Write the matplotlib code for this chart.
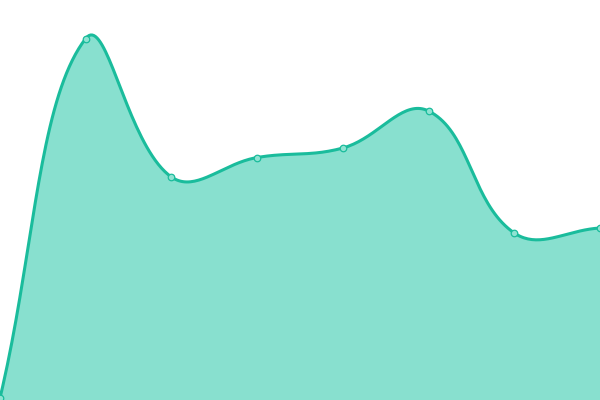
import numpy as np
import matplotlib
matplotlib.use("Agg")
import matplotlib.pyplot as plt

# data
labels = ["A", "B", "C", "D", "E", "F", "G", "H"]
values = [2, 361.5, 223, 242.5, 252, 289, 167, 172]

line_color = "#1abc9c"
fill_color = "#88e0cf"
tension = 0.4


def spline_controls(pts, t):
    # chart.js style control points, computed in pixel space
    n = len(pts)
    c1 = np.zeros_like(pts)
    c2 = np.zeros_like(pts)
    for i in range(n):
        prev = pts[i - 1] if i > 0 else pts[i]
        cur = pts[i]
        nxt = pts[i + 1] if i < n - 1 else pts[i]
        d01 = np.hypot(*(cur - prev))
        d12 = np.hypot(*(nxt - cur))
        tot = d01 + d12
        s01 = d01 / tot if tot else 0
        s12 = d12 / tot if tot else 0
        c1[i] = cur - t * s01 * (nxt - prev)
        c2[i] = cur + t * s12 * (nxt - prev)
    return c1, c2


fig = plt.figure(figsize=(6, 4), dpi=100)
ax = fig.add_axes([0, 0, 1, 1])
x = np.arange(len(values))
ax.set_xlim(0, len(values) - 1)
ax.set_ylim(0, 400)
ax.axis("off")

pts = ax.transData.transform(np.column_stack([x, values]))
c1, c2 = spline_controls(pts, tension)
curve = [pts[0]]
u = np.linspace(0, 1, 40)[1:, None]
for i in range(len(pts) - 1):
    p0, p1, p2, p3 = pts[i], c2[i], c1[i + 1], pts[i + 1]
    seg = ((1 - u) ** 3) * p0 + 3 * ((1 - u) ** 2) * u * p1 + 3 * (1 - u) * u ** 2 * p2 + u ** 3 * p3
    curve.extend(seg)
curve = ax.transData.inverted().transform(np.array(curve))

ax.fill_between(curve[:, 0], curve[:, 1], 0, color=fill_color, lw=0)
ax.plot(curve[:, 0], curve[:, 1], color=line_color, lw=2.2, clip_on=False,
        solid_capstyle="round")
ax.scatter(x, values, s=22, facecolor="#8fe3d2", edgecolor=line_color,
           linewidth=0.9, zorder=3, clip_on=False)

fig.savefig("out.png", dpi=100)
